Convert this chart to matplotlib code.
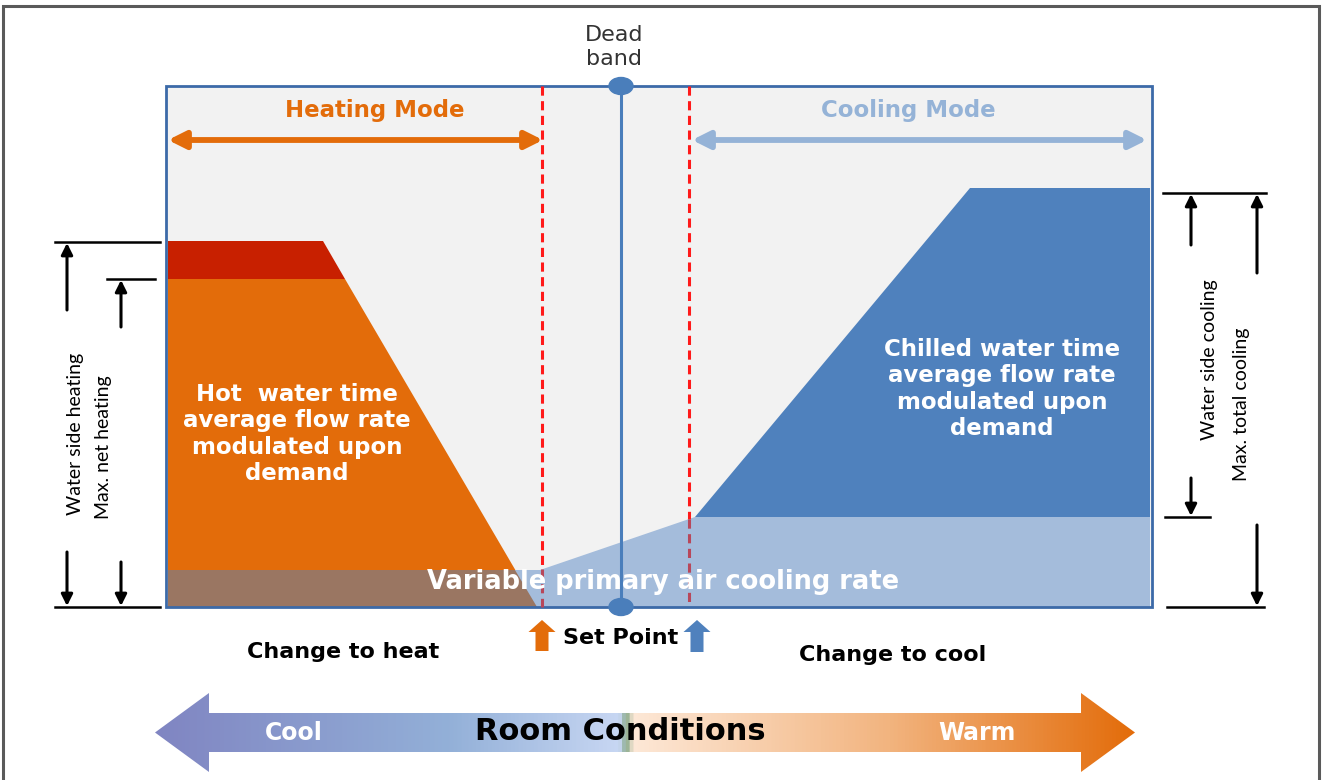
import numpy as np
import matplotlib
matplotlib.use("Agg")
import matplotlib.pyplot as plt
from matplotlib.patches import Polygon, Ellipse, FancyArrow
from matplotlib.colors import LinearSegmentedColormap

# canvas is laid out in pixel units: x to the right, y downward
W, H = 1323, 780

# plot frame
frame_x = [166, 1152]
frame_y = [86, 607]
deadband_x = 621
switch_x = [542, 689]

# load regions (polygons, pixel coords)
heat_peak = [(168, 241), (323, 241), (345, 279), (168, 279)]
heat_water = [(168, 279), (345, 279), (537, 607), (168, 607)]
air_band = [(168, 607), (168, 570), (540, 570), (695, 517), (1150, 517), (1150, 607)]
air_heat_overlap = [(168, 570), (515, 570), (537, 607), (168, 607)]
cool_water = [(695, 517), (970, 188), (1150, 188), (1150, 517)]

# room-condition arrow colour stops (position 0..1, colour)
room_stops = [(0.0, "#8085c2"), (0.30, "#93b0d8"), (0.474, "#c8d7f3"),
              (0.481, "#86a888"), (0.488, "#fde8d7"), (0.75, "#f2b47f"),
              (1.0, "#e36c0a")]

ORANGE = "#e36c0a"
RED = "#c82000"
BROWN = "#9a7662"
DARK_BLUE = "#4f81bd"
LIGHT_BLUE = "#a4bcdb"
MODE_BLUE = "#95b3d7"
LINE_BLUE = "#4a7ebb"

BOLD = ["DejaVu Sans"]
PLAIN = ["Lato", "Liberation Sans", "DejaVu Sans"]

fig = plt.figure(figsize=(W / 100, H / 100), dpi=100)
ax = fig.add_axes([0, 0, 1, 1])
ax.set_xlim(0, W)
ax.set_ylim(H, 0)
ax.axis("off")

# outer border
ax.plot([3, 3, 1319, 1319], [780, 6, 6, 780], color="#5a5a5a", lw=2.2,
        solid_joinstyle="miter")

# frame background
frame_pts = [(frame_x[0], frame_y[0]), (frame_x[1], frame_y[0]),
             (frame_x[1], frame_y[1]), (frame_x[0], frame_y[1])]
ax.add_patch(Polygon(frame_pts, closed=True, facecolor="#f2f2f2", edgecolor="none"))

for pts, col in [(heat_water, ORANGE), (heat_peak, RED), (air_band, LIGHT_BLUE),
                 (cool_water, DARK_BLUE), (air_heat_overlap, BROWN)]:
    ax.add_patch(Polygon(pts, closed=True, facecolor=col, edgecolor="none"))

ax.add_patch(Polygon(frame_pts, closed=True, facecolor="none",
                     edgecolor="#3c6aa8", lw=2))

# switch-over lines, muted where they cross the primary-air band
band_x = [p[0] for p in air_band[1:5]]
band_y = [p[1] for p in air_band[1:5]]
for x in switch_x:
    top = np.interp(x, band_x, band_y)
    ax.plot([x, x], [frame_y[0], top], color="#ff1a1a", lw=2.2, dashes=(3, 1.8))
    ax.plot([x, x], [top, frame_y[1]], color="#b8475a", lw=2.2, dashes=(3, 1.8))

# dead band line with end markers
ax.plot([deadband_x, deadband_x], frame_y, color=LINE_BLUE, lw=2.2)
for y in frame_y:
    ax.add_patch(Ellipse((deadband_x, y), 24, 17, color=LINE_BLUE))
ax.text(deadband_x - 7, 47, "Dead\nband", ha="center", va="center",
        fontsize=16, color="#333333", family=["DejaVu Sans"], linespacing=1.2)

# mode arrows
ax.annotate("", xy=(168, 140), xytext=(543, 140),
            arrowprops=dict(arrowstyle="<|-|>", color=ORANGE, lw=4.2,
                            mutation_scale=26, shrinkA=0, shrinkB=0))
ax.annotate("", xy=(692, 140), xytext=(1147, 140),
            arrowprops=dict(arrowstyle="<|-|>", color=MODE_BLUE, lw=4.2,
                            mutation_scale=26, shrinkA=0, shrinkB=0))
ax.text(375, 111, "Heating Mode", ha="center", va="center", fontsize=16.5,
        fontweight="bold", color=ORANGE, family=BOLD)
ax.text(908, 111, "Cooling Mode", ha="center", va="center", fontsize=16.5,
        fontweight="bold", color=MODE_BLUE, family=BOLD)

# region labels
ax.text(297, 434, "Hot  water time\naverage flow rate\nmodulated upon\ndemand",
        ha="center", va="center", fontsize=16.5, fontweight="bold", color="white",
        family=BOLD, linespacing=1.17)
ax.text(1002, 389, "Chilled water time\naverage flow rate\nmodulated upon\ndemand",
        ha="center", va="center", fontsize=16.5, fontweight="bold", color="white",
        family=BOLD, linespacing=1.17)
ax.text(663, 582, "Variable primary air cooling rate", ha="center", va="center",
        fontsize=18.5, fontweight="bold", color="white", family=BOLD)


# dimension arrows
def dim_arrow(x, y0, y1):
    ax.annotate("", xy=(x, y1), xytext=(x, y0),
                arrowprops=dict(arrowstyle="-|>", color="black", lw=2.2,
                                mutation_scale=17, shrinkA=0, shrinkB=0))


for x0, x1, y in [(55, 160, 242), (107, 155, 279), (55, 160, 607),
                  (1163, 1266, 193), (1165, 1210, 517), (1167, 1264, 607)]:
    ax.plot([x0, x1], [y, y], color="black", lw=1.8)

dim_arrow(67, 310, 243)
dim_arrow(67, 552, 606)
dim_arrow(121, 327, 280)
dim_arrow(121, 562, 606)
dim_arrow(1191, 245, 194)
dim_arrow(1191, 478, 516)
dim_arrow(1257, 273, 194)
dim_arrow(1257, 525, 606)

ax.text(76, 434, "Water side heating", rotation=90, ha="center", va="center",
        fontsize=14, color="black", family=PLAIN)
ax.text(103, 447, "Max. net heating", rotation=90, ha="center", va="center",
        fontsize=14, color="black", family=PLAIN)
ax.text(1210, 360, "Water side cooling", rotation=90, ha="center", va="center",
        fontsize=14, color="black", family=PLAIN)
ax.text(1241, 404, "Max. total cooling", rotation=90, ha="center", va="center",
        fontsize=14, color="black", family=PLAIN)

# set point markers
ax.add_patch(FancyArrow(542, 651, 0, -31, width=13, head_width=27, head_length=12,
                        length_includes_head=True, color=ORANGE, lw=0))
ax.add_patch(FancyArrow(697, 652, 0, -32, width=13, head_width=27, head_length=12,
                        length_includes_head=True, color=DARK_BLUE, lw=0))
ax.text(621, 638, "Set Point", ha="center", va="center", fontsize=16,
        fontweight="bold", color="black", family=BOLD)
ax.text(343, 652, "Change to heat", ha="center", va="center", fontsize=16,
        fontweight="bold", color="black", family=BOLD)
ax.text(893, 655, "Change to cool", ha="center", va="center", fontsize=16,
        fontweight="bold", color="black", family=BOLD)

# room conditions double arrow with colour gradient
ax_l, ax_r = 155, 1135
body_t, body_b = 713, 752
head_t, head_b = 693, 772
head_len = 54
mid_y = (head_t + head_b) / 2
room_arrow = Polygon([(ax_l, mid_y), (ax_l + head_len, head_t), (ax_l + head_len, body_t),
                      (ax_r - head_len, body_t), (ax_r - head_len, head_t), (ax_r, mid_y),
                      (ax_r - head_len, head_b), (ax_r - head_len, body_b),
                      (ax_l + head_len, body_b), (ax_l + head_len, head_b)],
                     closed=True, facecolor="none", edgecolor="none")
ax.add_patch(room_arrow)
cmap = LinearSegmentedColormap.from_list("room", room_stops)
grad = np.linspace(0, 1, 1024)[None, :]
img = ax.imshow(grad, cmap=cmap, extent=(ax_l, ax_r, head_b, head_t),
                aspect="auto", interpolation="bilinear")
img.set_clip_path(room_arrow)
ax.set_xlim(0, W)
ax.set_ylim(H, 0)

ax.text(294, 733, "Cool", ha="center", va="center", fontsize=17,
        fontweight="bold", color="white", family=BOLD)
ax.text(620, 732, "Room Conditions", ha="center", va="center", fontsize=22,
        fontweight="bold", color="black", family=BOLD)
ax.text(977, 733, "Warm", ha="center", va="center", fontsize=17,
        fontweight="bold", color="white", family=BOLD)

fig.savefig("out.png", dpi=100)
